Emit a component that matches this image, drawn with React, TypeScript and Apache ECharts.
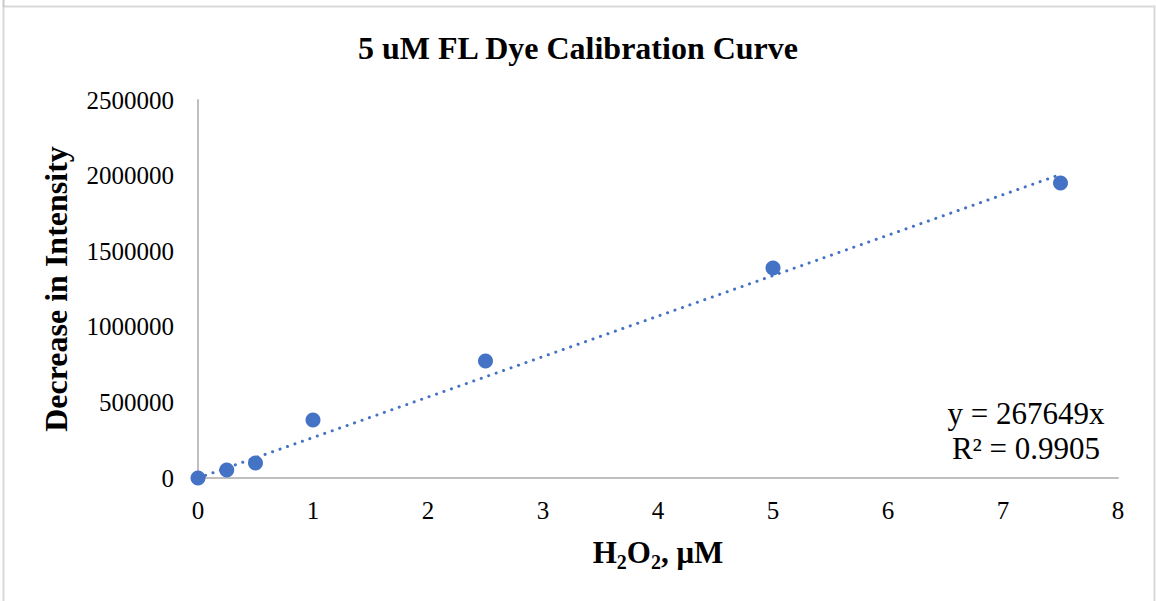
import React, { useEffect, useRef } from "react";
import * as echarts from "echarts";

const concentrations = [0, 0.25, 0.5, 1, 2.5, 5, 7.5];
const intensityDecrease = [0, 53000, 99000, 384000, 774000, 1389000, 1951000];
const trendX = [0, 7.5];
const trendY = [0, 2007368];
const equationLines = ["y = 267649x", "R² = 0.9905"];

const FONT = "'Liberation Serif', 'Times New Roman', serif";
const BLUE = "#4472C4";
const AXIS = "#BFBFBF";

export default function App() {
  const ref = useRef<HTMLDivElement>(null);
  useEffect(() => {
    if (!ref.current) return;
    const chart = echarts.init(ref.current, undefined, { renderer: "svg" });
    chart.setOption({
      animation: false,
      backgroundColor: "#ffffff",
      textStyle: { fontFamily: FONT },
      title: {
        text: "5 uM FL Dye Calibration Curve",
        left: "center",
        top: 27,
        textStyle: { fontFamily: FONT, fontSize: 32, fontWeight: "bold", color: "#000" },
      },
      grid: { left: 198, right: 38, top: 100, bottom: 123, containLabel: false },
      xAxis: {
        type: "value",
        min: 0,
        max: 8,
        interval: 1,
        name: "{b|H}{s|2}{b|O}{s|2}{b|, μM}",
        nameLocation: "middle",
        nameGap: 56,
        nameTextStyle: {
          rich: {
            b: { fontFamily: FONT, fontSize: 31, fontWeight: "bold", color: "#000", lineHeight: 36 },
            s: { fontFamily: FONT, fontSize: 20, fontWeight: "bold", color: "#000", lineHeight: 36, padding: [20, 0, 0, 0] },
          },
        },
        axisLine: { show: true, lineStyle: { color: AXIS, width: 2 } },
        axisTick: { show: false },
        splitLine: { show: false },
        axisLabel: { fontFamily: FONT, fontSize: 25, color: "#000", margin: 20, formatter: (v: number) => String(v) },
      },
      yAxis: {
        type: "value",
        min: 0,
        max: 2500000,
        interval: 500000,
        name: "Decrease in Intensity",
        nameLocation: "middle",
        nameGap: 126,
        nameTextStyle: { fontFamily: FONT, fontSize: 32, fontWeight: "bold", color: "#000" },
        axisLine: { show: true, lineStyle: { color: AXIS, width: 2 } },
        axisTick: { show: false },
        splitLine: { show: false },
        axisLabel: { fontFamily: FONT, fontSize: 25, color: "#000", margin: 24, formatter: (v: number) => String(v) },
      },
      series: [
        {
          type: "line",
          data: trendX.map((x, i) => [x, trendY[i]]),
          symbol: "none",
          silent: true,
          lineStyle: { color: BLUE, width: 3, type: [0.1, 7.8], cap: "round", opacity: 1 },
          z: 1,
        },
        {
          type: "scatter",
          data: concentrations.map((x, i) => [x, intensityDecrease[i]]),
          symbol: "circle",
          symbolSize: 15,
          itemStyle: { color: BLUE, opacity: 1 },
          z: 2,
        },
      ],
      graphic: [
        {
          type: "rect",
          shape: { x: 3.5, y: 6.5, width: 1151, height: 700 },
          style: { fill: "none", stroke: "#D9D9D9", lineWidth: 2 },
          silent: true,
        },
        {
          type: "line",
          shape: { x1: 3.5, y1: 0, x2: 3.5, y2: 7 },
          style: { stroke: "#C8C8C8", lineWidth: 2 },
          silent: true,
        },
        {
          type: "text",
          x: 1026,
          y: 413,
          style: {
            text: equationLines[0],
            fontFamily: FONT,
            fontSize: 31,
            fill: "#000",
            textAlign: "center",
            textVerticalAlign: "middle",
          },
        },
        {
          type: "text",
          x: 1026,
          y: 448,
          style: {
            text: equationLines[1],
            fontFamily: FONT,
            fontSize: 31,
            fill: "#000",
            textAlign: "center",
            textVerticalAlign: "middle",
          },
        },
      ],
    });
    return () => chart.dispose();
  }, []);
  return (
    <div
      ref={ref}
      style={{ position: "fixed", left: 0, top: 0, width: 1156, height: 601 }}
    />
  );
}
